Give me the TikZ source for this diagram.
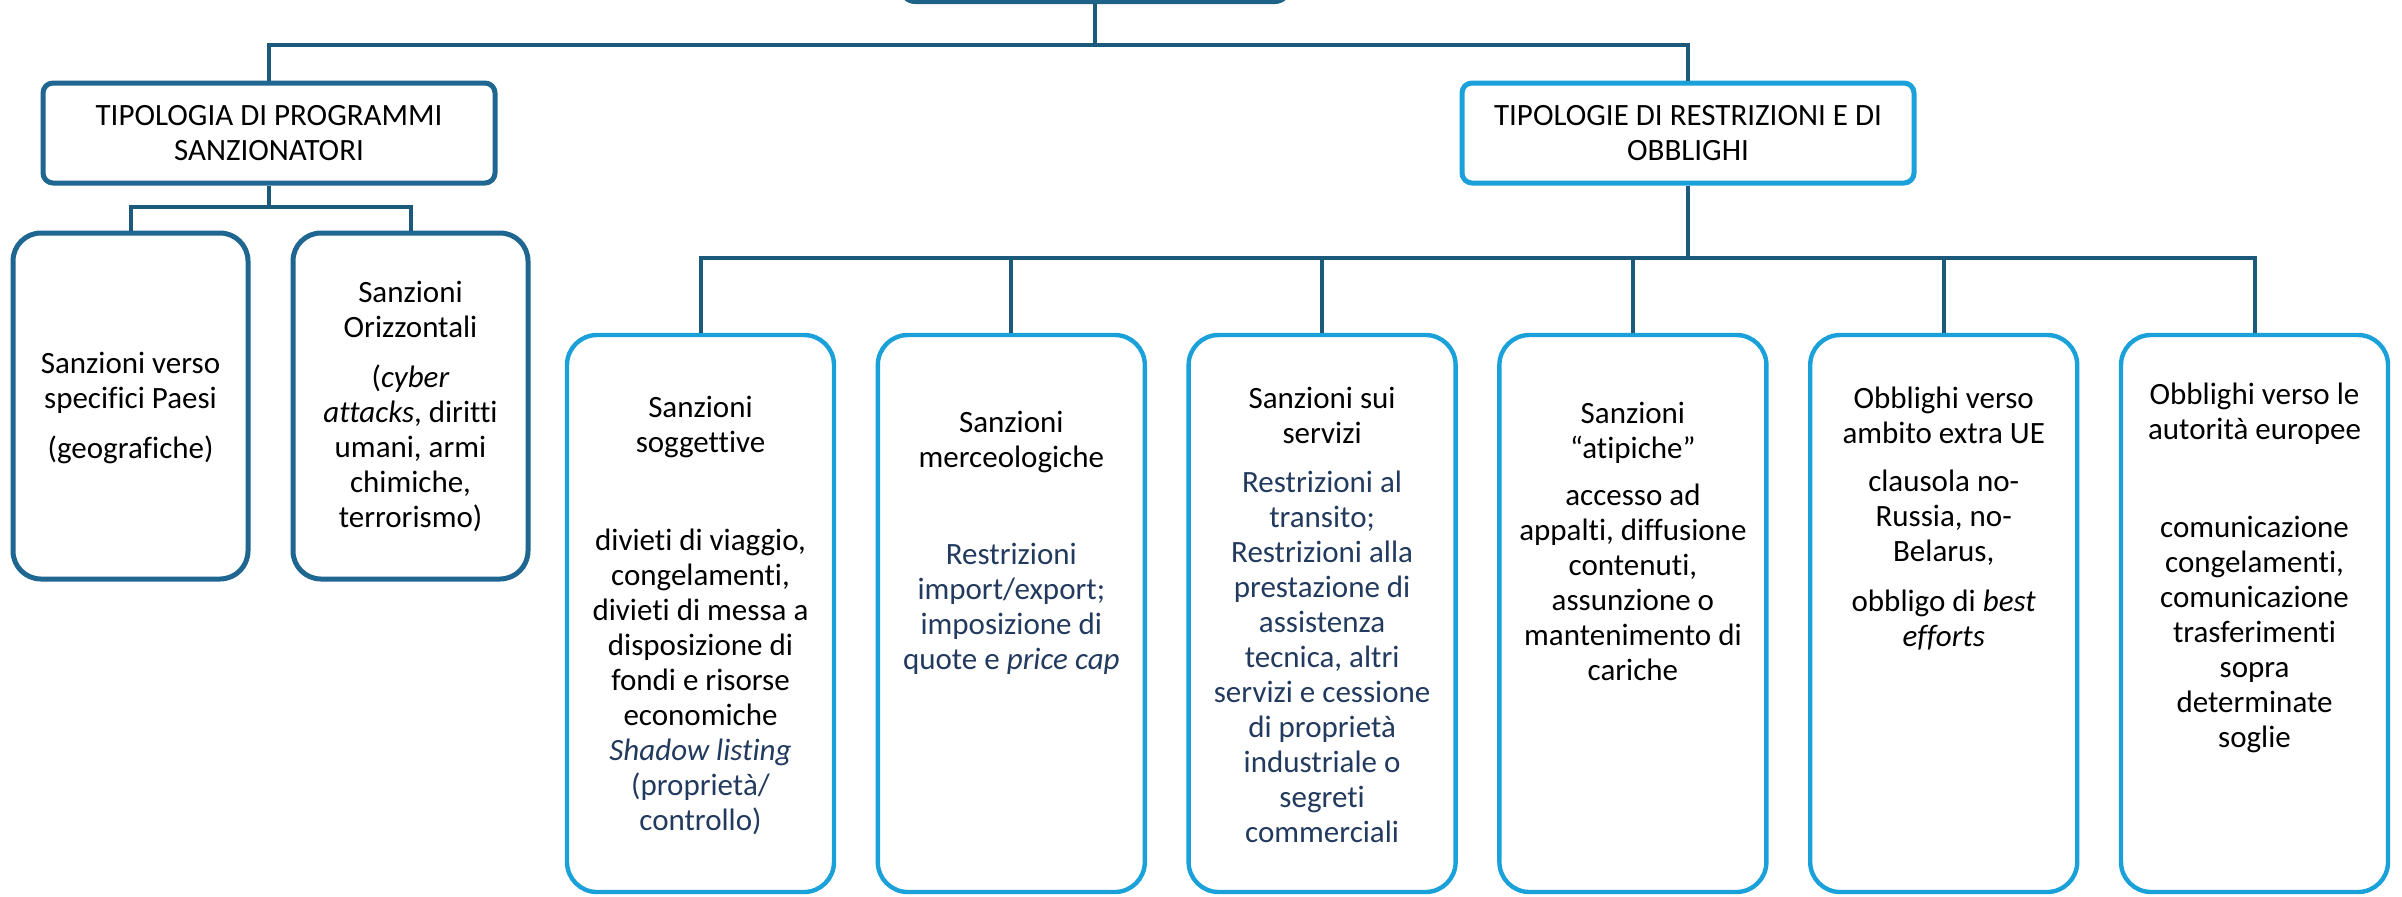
\documentclass[tikz,border=0pt]{standalone}
\usepackage{fontspec}
\setmainfont{Carlito}[RawFeature={-liga}]
\usetikzlibrary{positioning}

\definecolor{linedark}{HTML}{1B5A7A}
\definecolor{boxdark}{HTML}{1F6690}
\definecolor{boxlight}{HTML}{1BA1D9}
\definecolor{topfill}{HTML}{1E6387}
\definecolor{txtnavy}{HTML}{223A5E}

\tikzset{
  conn/.style={draw=linedark, line width=2pt},
  topbox/.style={fill=topfill, rounded corners=8pt, minimum width=196pt, minimum height=32pt},
  headbox/.style={draw, fill=white, rounded corners=5pt, line width=2.5pt, minimum width=226pt, minimum height=50pt},
  groupbox/.style={draw=boxdark, rounded corners=14pt, line width=2.5pt, minimum width=117.5pt, minimum height=173pt},
  itembox/.style={draw=boxlight, rounded corners=15pt, line width=2.2pt, minimum width=133.5pt, minimum height=278.5pt},
  txt/.style={anchor=base, align=center, inner sep=0pt, font=\fontsize{15.5}{17.5}\selectfont},
  navy/.style={text=txtnavy}
}

\begin{document}
\begin{tikzpicture}[x=0.5pt, y=-0.5pt]
\useasboundingbox (0,0) rectangle (2402,896);

% boxes
\node[topbox] (top) at (1095,-28) {};
\node[headbox, draw=boxdark] (prog) at (269,133) {};
\node[headbox, draw=boxlight] (rest) at (1688,133) {};
\node[groupbox] (geo) at (130.5,406) {};
\node[groupbox] (oriz) at (410.5,406) {};
\node[itembox] (b1) at (700.5,613.5) {};
\node[itembox] (b2) at (1011.3,613.5) {};
\node[itembox] (b3) at (1322.1,613.5) {};
\node[itembox] (b4) at (1632.9,613.5) {};
\node[itembox] (b5) at (1943.7,613.5) {};
\node[itembox] (b6) at (2254.5,613.5) {};

% connectors
\coordinate (bus1) at (0,45);
\coordinate (bus2) at (0,207);
\coordinate (bus3) at (0,258);
\draw[conn] (top.south) -- (top.south |- bus1);
\draw[conn] (prog.north) |- (rest.north |- bus1) -- (rest.north);
\draw[conn] (prog.south) -- (prog.south |- bus2);
\draw[conn] (geo.north) |- (oriz.north |- bus2) -- (oriz.north);
\draw[conn] (rest.south) -- (rest.south |- bus3);
\draw[conn] (b1.north) |- (b6.north |- bus3) -- (b6.north);
\foreach \n in {b2,b3,b4,b5}
  \draw[conn] (\n.north) -- (\n.north |- bus3);

% texts (placed at the baseline of their last line)
\node[txt] (progt) at (269,160) {TIPOLOGIA DI PROGRAMMI\\SANZIONATORI};
\node[txt] (restt) at (1688,160) {TIPOLOGIE DI RESTRIZIONI E DI\\OBBLIGHI};
\node[txt] (geot) at (130.5,458) {Sanzioni verso\\specifici Paesi\\[7.5pt](geografiche)};
\node[txt] (orizt) at (410.5,337) {Sanzioni\\Orizzontali};
\node[txt] (orizx) at (410.5,527) {(\textit{cyber}\\\textit{attacks}, diritti\\umani, armi\\chimiche,\\terrorismo)};
\node[txt] (b1t) at (700.5,452) {Sanzioni\\soggettive};
\node[txt] (b1x) at (700.5,830) {divieti di viaggio,\\congelamenti,\\divieti di messa a\\disposizione di\\fondi e risorse\\economiche\\\textcolor{txtnavy}{\textit{Shadow listing}}\\\textcolor{txtnavy}{(proprietà/}\\\textcolor{txtnavy}{controllo)}};
\node[txt] (b2t) at (1011.3,467) {Sanzioni\\merceologiche};
\node[txt, navy] (b2x) at (1011.3,669) {Restrizioni\\import/export;\\imposizione di\\quote e \textit{price cap}};
\node[txt] (b3t) at (1322.1,443) {Sanzioni sui\\servizi};
\node[txt, navy] (b3x) at (1322.1,842) {Restrizioni al\\transito;\\Restrizioni alla\\prestazione di\\assistenza\\tecnica, altri\\servizi e cessione\\di proprietà\\industriale o\\segreti\\commerciali};
\node[txt] (b4t) at (1632.9,458) {Sanzioni\\“atipiche”};
\node[txt] (b4x) at (1632.9,680) {accesso ad\\appalti, diffusione\\contenuti,\\assunzione o\\mantenimento di\\cariche};
\node[txt] (b5t) at (1943.7,443) {Obblighi verso\\ambito extra UE};
\node[txt] (b5x) at (1943.7,646) {clausola no-\\Russia, no-\\Belarus,\\[7.5pt]obbligo di \textit{best}\\\textit{efforts}};
\node[txt] (b6t) at (2254.5,439) {Obblighi verso le\\autorità europee};
\node[txt] (b6x) at (2254.5,747) {comunicazione\\congelamenti,\\comunicazione\\trasferimenti\\sopra\\determinate\\soglie};
\end{tikzpicture}
\end{document}
